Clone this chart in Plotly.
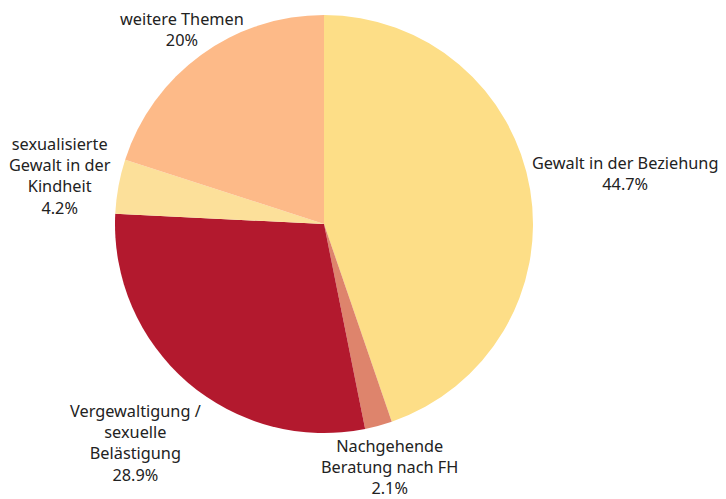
import math
import plotly.graph_objects as go

labels = ["Gewalt in der Beziehung", "Nachgehende<br>Beratung nach FH",
          "Vergewaltigung /<br>sexuelle<br>Belästigung",
          "sexualisierte<br>Gewalt in der<br>Kindheit", "weitere Themen"]
values = [44.7, 2.1, 28.9, 4.2, 20]
pct_text = ["44.7%", "2.1%", "28.9%", "4.2%", "20%"]
colors = ["#FDDE87", "#DE846C", "#B3192E", "#FCE09A", "#FDBA88"]

# layout: distance of each label's centre from the pie centre (px)
label_dist = [305, 252, 289, 268, 241]

W, H = 726, 499
cx, cy, r = 316, 216, 209
ml, mr, mt, mb = cx - r, W - cx - r, cy - r, H - cy - r
pw, ph = W - ml - mr, H - mt - mb

fig = go.Figure(go.Pie(
    labels=[l.replace("<br>", " ") for l in labels], values=values, sort=False,
    direction="clockwise", rotation=0,
    marker=dict(colors=colors, line=dict(width=0)),
    textinfo="none", showlegend=False, hoverinfo="label+percent",
))

total = sum(values)
cum = 0.0
annotations = []
for lab, v, pct, d in zip(labels, values, pct_text, label_dist):
    mid = (cum + v / 2) / total * 2 * math.pi
    cum += v
    fx = cx + d * math.sin(mid)
    fy = cy - d * math.cos(mid)
    annotations.append(dict(
        text=f"{lab}<br>{pct}", showarrow=False, xref="paper", yref="paper",
        x=(fx - ml) / pw, y=(H - mb - fy) / ph, xanchor="center", yanchor="middle",
        align="center", borderpad=0,
        font=dict(family="Noto Sans", size=16.3, color="#222222"),
    ))

fig.update_layout(width=W, height=H,
                  margin=dict(l=ml, r=mr, t=mt, b=mb, autoexpand=False),
                  paper_bgcolor="white", plot_bgcolor="white",
                  annotations=annotations,
                  font=dict(family="Noto Sans", size=16.3, color="#222222"))
fig.write_html("out.html")
